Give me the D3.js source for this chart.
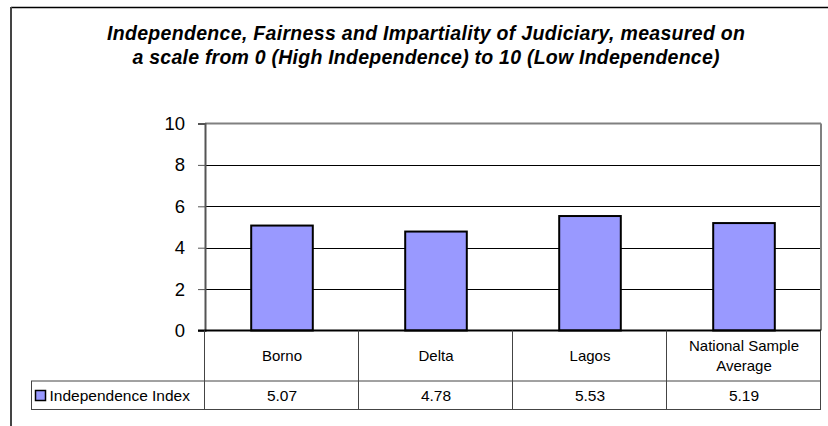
<!DOCTYPE html>
<html><head><meta charset="utf-8">
<script src="https://cdn.jsdelivr.net/npm/d3@7"></script>
<style>html,body{margin:0;padding:0;background:#fff;}svg{display:block;font-family:"Liberation Sans",Arial,sans-serif;}</style>
</head><body>
<script>
const titleLines = ["Independence, Fairness and Impartiality of Judiciary, measured on",
                    "a scale from 0 (High Independence) to 10 (Low Independence)"];
const categories = ["Borno", "Delta", "Lagos", "National Sample Average"];
const categoryLines = [["Borno"], ["Delta"], ["Lagos"], ["National Sample", "Average"]];
const seriesName = "Independence Index";
const values = [5.07, 4.78, 5.53, 5.19];
const valueLabels = ["5.07", "4.78", "5.53", "5.19"];
const yTicks = [0, 2, 4, 6, 8, 10];

(function () {
const W = 828, H = 426;
const svg = d3.select("body").append("svg").attr("width", W).attr("height", H);
svg.append("rect").attr("width", W).attr("height", H).attr("fill", "#fff");

// outer frame
svg.append("line").attr("x1", 11).attr("x2", W).attr("y1", 7.5).attr("y2", 7.5).attr("stroke", "#000").attr("stroke-width", 1.5);
svg.append("line").attr("x1", 11).attr("x2", 11).attr("y1", 7).attr("y2", H).attr("stroke", "#444").attr("stroke-width", 2);

// title
const titleWidths = [638, 587];
svg.append("g").selectAll("text").data(titleLines).join("text")
  .attr("x", 426).attr("y", (d, i) => 40 + i * 24)
  .attr("text-anchor", "middle").attr("font-size", 19.5).attr("font-weight", "bold").attr("font-style", "italic")
  .attr("textLength", (d, i) => titleWidths[i]).attr("lengthAdjust", "spacing")
  .text(d => d);

const pLeft = 205, pRight = 821, pTop = 123.5, pBottom = 330.5;
const x = d3.scaleBand().domain(categories).range([pLeft, pRight]).padding(0);
const y = d3.scaleLinear().domain([0, 10]).range([pBottom, pTop]);

// gridlines
svg.append("g").selectAll("line").data(yTicks.filter(t => t > 0 && t < 10)).join("line")
  .attr("x1", pLeft).attr("x2", pRight).attr("y1", d => Math.round(y(d)) + 0.5).attr("y2", d => Math.round(y(d)) + 0.5)
  .attr("stroke", "#000").attr("stroke-width", 1);

// plot border top & right
svg.append("line").attr("x1", pLeft).attr("x2", pRight).attr("y1", pTop).attr("y2", pTop).attr("stroke", "#808080").attr("stroke-width", 2);
svg.append("line").attr("x1", pRight).attr("x2", pRight).attr("y1", pTop).attr("y2", pBottom).attr("stroke", "#808080").attr("stroke-width", 2);

// y axis
const yAxis = d3.axisLeft(y).tickValues(yTicks).tickSize(7).tickPadding(13).tickFormat(d3.format("d"));
const ga = svg.append("g").attr("transform", `translate(${pLeft},0)`).call(yAxis);
ga.attr("font-family", null).attr("font-size", null);
ga.select(".domain").attr("stroke", "#555").attr("stroke-width", 2);
ga.selectAll(".tick line").attr("stroke", "#555");
ga.selectAll(".tick text").attr("font-size", 18.5).attr("fill", "#000");

// bars
const bw = x.bandwidth() * 0.4;
svg.append("g").selectAll("rect").data(values).join("rect")
  .attr("x", (d, i) => x(categories[i]) + (x.bandwidth() - bw) / 2)
  .attr("width", bw)
  .attr("y", d => y(d))
  .attr("height", d => y(0) - y(d))
  .attr("fill", "#9999FF").attr("stroke", "#000").attr("stroke-width", 2);

// zero line
svg.append("line").attr("x1", pLeft - 7).attr("x2", pRight).attr("y1", pBottom).attr("y2", pBottom).attr("stroke", "#000").attr("stroke-width", 2);

// data table
const tLeft = 31, r1 = 381, r2 = 409.5;
const tc = "#444";
const tbl = svg.append("g").attr("stroke", tc).attr("stroke-width", 1);
tbl.append("line").attr("x1", tLeft).attr("x2", pRight).attr("y1", r1).attr("y2", r1);
tbl.append("line").attr("x1", tLeft).attr("x2", pRight).attr("y1", r2).attr("y2", r2);
tbl.append("line").attr("x1", tLeft + 0.5).attr("x2", tLeft + 0.5).attr("y1", r1).attr("y2", r2);
const colEdges = categories.map(c => x(c)).concat([pRight]);
tbl.selectAll("line.col").data(colEdges).join("line").attr("class", "col")
  .attr("x1", d => Math.round(d) - 0.5).attr("x2", d => Math.round(d) - 0.5).attr("y1", pBottom).attr("y2", r2);

// category labels
const catG = svg.append("g");
categoryLines.forEach((lines, i) => {
  const cx = x(categories[i]) + x.bandwidth() / 2;
  const n = lines.length;
  lines.forEach((ln, j) => {
    catG.append("text").attr("x", cx).attr("y", (pBottom + r1) / 2 + 5.5 + (j - (n - 1) / 2) * 20)
      .attr("text-anchor", "middle").attr("font-size", 15).text(ln);
  });
});

// value labels
svg.append("g").selectAll("text").data(valueLabels).join("text")
  .attr("x", (d, i) => x(categories[i]) + x.bandwidth() / 2).attr("y", 400.5)
  .attr("text-anchor", "middle").attr("font-size", 15.5).text(d => d);

// legend key in table
svg.append("rect").attr("x", 35.5).attr("y", 390.5).attr("width", 10).attr("height", 10)
  .attr("fill", "#9999FF").attr("stroke", "#000").attr("stroke-width", 1.5);
svg.append("text").attr("x", 49.5).attr("y", 401).attr("font-size", 15.5).text(seriesName);
})();
</script>
</body></html>
